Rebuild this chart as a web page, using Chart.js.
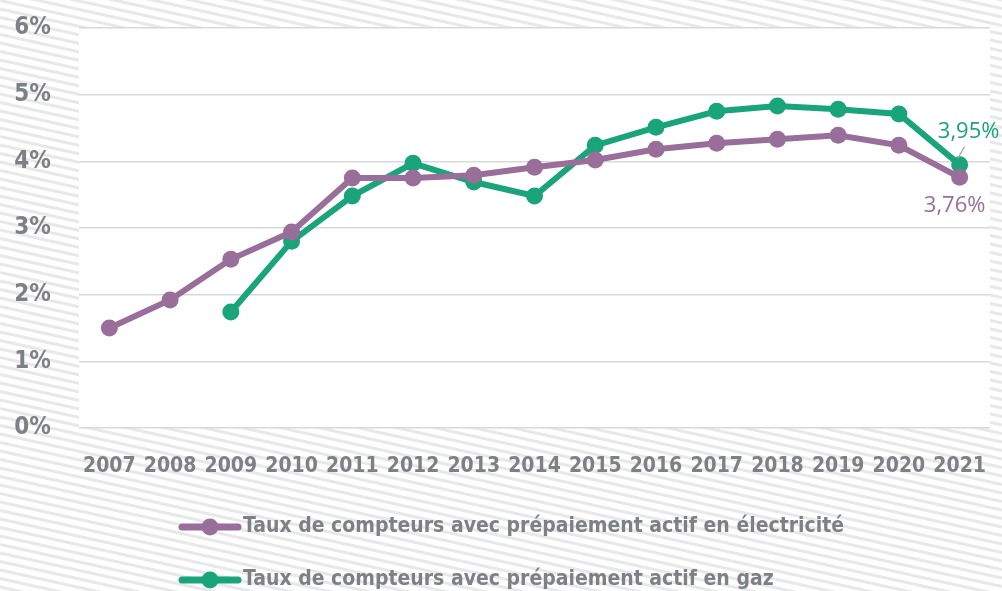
<!DOCTYPE html>
<html>
<head>
<meta charset="utf-8">
<script src="https://cdn.jsdelivr.net/npm/chart.js@4.4.1/dist/chart.umd.min.js"></script>
<style>
  html, body { margin: 0; padding: 0; background: #fff; }
  #wrap { width: 1002px; height: 591px; }
</style>
</head>
<body>
<div id="wrap"><canvas id="chart"></canvas></div>
<script>
const years = ["2007", "2008", "2009", "2010", "2011", "2012", "2013", "2014", "2015", "2016", "2017", "2018", "2019", "2020", "2021"];
const electricite = [1.50, 1.92, 2.53, 2.94, 3.75, 3.75, 3.79, 3.91, 4.02, 4.18, 4.27, 4.33, 4.39, 4.24, 3.76];
const gaz = [null, null, 1.74, 2.80, 3.48, 3.97, 3.69, 3.48, 4.24, 4.51, 4.75, 4.83, 4.78, 4.71, 3.95];
const seriesNames = [
  "Taux de compteurs avec prépaiement actif en électricité",
  "Taux de compteurs avec prépaiement actif en gaz",
];
const endLabels = ["3,76%", "3,95%"];

const PURPLE = "#9a6e9a";
const GREEN = "#19a47a";
const GREY = "#7d8084";
const FONT = "'Liberation Sans Narrow', 'DejaVu Sans Condensed', 'Roboto', sans-serif";

// fond hachuré + zone de tracé blanche
const background = {
  id: "background",
  beforeDraw(chart) {
    const { ctx, width, height, chartArea } = chart;
    ctx.save();
    ctx.fillStyle = "#fff";
    ctx.fillRect(0, 0, width, height);
    ctx.strokeStyle = "#e7e8e9";
    ctx.lineWidth = 3;
    const slope = 0.22;
    for (let y = -width * slope; y < height + 10; y += 8.5) {
      ctx.beginPath();
      ctx.moveTo(0, y);
      ctx.lineTo(width, y + width * slope);
      ctx.stroke();
    }
    ctx.fillStyle = "#fff";
    ctx.fillRect(chartArea.left, chartArea.top, chartArea.right - chartArea.left, chartArea.bottom - chartArea.top);
    ctx.restore();
  },
};

// étiquettes de la dernière valeur
const lastLabels = {
  id: "lastLabels",
  afterDatasetsDraw(chart) {
    const { ctx } = chart;
    const pe = chart.getDatasetMeta(0).data[years.length - 1];
    const pg = chart.getDatasetMeta(1).data[years.length - 1];
    ctx.save();
    ctx.font = "22px 'Open Sans', sans-serif";
    ctx.textAlign = "center";
    ctx.textBaseline = "middle";
    ctx.fillStyle = PURPLE;
    ctx.fillText(endLabels[0], pe.x - 5, pe.y + 28);
    ctx.fillStyle = GREEN;
    ctx.fillText(endLabels[1], pg.x + 9, pg.y - 33);
    ctx.strokeStyle = "#a6a6a6";
    ctx.lineWidth = 1.2;
    ctx.beginPath();
    ctx.moveTo(pg.x - 2, pg.y - 6);
    ctx.lineTo(pg.x + 5, pg.y - 18);
    ctx.stroke();
    ctx.restore();
  },
};

// légende à gauche, une série par ligne
const legendRows = {
  id: "legendRows",
  afterDraw(chart) {
    const { ctx } = chart;
    const rows = [527, 580];
    ctx.save();
    chart.data.datasets.forEach((ds, i) => {
      const y = rows[i];
      ctx.strokeStyle = ds.borderColor;
      ctx.lineWidth = 7;
      ctx.lineCap = "round";
      ctx.beginPath();
      ctx.moveTo(182, y);
      ctx.lineTo(238, y);
      ctx.stroke();
      ctx.fillStyle = ds.borderColor;
      ctx.beginPath();
      ctx.arc(210, y, 8.5, 0, Math.PI * 2);
      ctx.fill();
      ctx.fillStyle = GREY;
      ctx.font = "bold 21px " + FONT;
      ctx.textAlign = "left";
      ctx.textBaseline = "middle";
      ctx.fillText(ds.label, 243, y);
    });
    ctx.restore();
  },
};

new Chart(document.getElementById("chart"), {
  type: "line",
  data: {
    labels: years,
    datasets: [
      {
        label: seriesNames[0],
        data: electricite,
        borderColor: PURPLE,
        backgroundColor: PURPLE,
        borderWidth: 6,
        pointRadius: 8.5,
        pointHoverRadius: 8.5,
        pointBorderWidth: 0,
        tension: 0,
      },
      {
        label: seriesNames[1],
        data: gaz,
        borderColor: GREEN,
        backgroundColor: GREEN,
        borderWidth: 6,
        pointRadius: 8.5,
        pointHoverRadius: 8.5,
        pointBorderWidth: 0,
        tension: 0,
      },
    ],
  },
  options: {
    responsive: true,
    maintainAspectRatio: false,
    animation: false,
    devicePixelRatio: 1,
    layout: { padding: { top: 28, right: 12, left: 0, bottom: 0 } },
    plugins: {
      legend: { display: false },
      tooltip: { enabled: false },
    },
    scales: {
      x: {
        offset: true,
        grid: { display: false, drawTicks: true, tickLength: 26 },
        border: { display: false },
        ticks: {
          color: GREY,
          font: { family: FONT, size: 21, weight: "bold" },
          padding: 0,
          maxRotation: 0,
          autoSkip: false,
        },
        afterFit(scale) { scale.height = 163; },
      },
      y: {
        min: 0,
        max: 6,
        grid: { color: "#d9d9d9", lineWidth: 1.5, drawTicks: true, tickLength: 28, tickColor: "rgba(0,0,0,0)" },
        border: { display: false },
        ticks: {
          stepSize: 1,
          color: GREY,
          font: { family: FONT, size: 24, weight: "bold" },
          padding: 0,
          callback: (v) => v + "%",
        },
        afterFit(scale) { scale.width = 79; },
      },
    },
  },
  plugins: [background, lastLabels, legendRows],
});
</script>
</body>
</html>
